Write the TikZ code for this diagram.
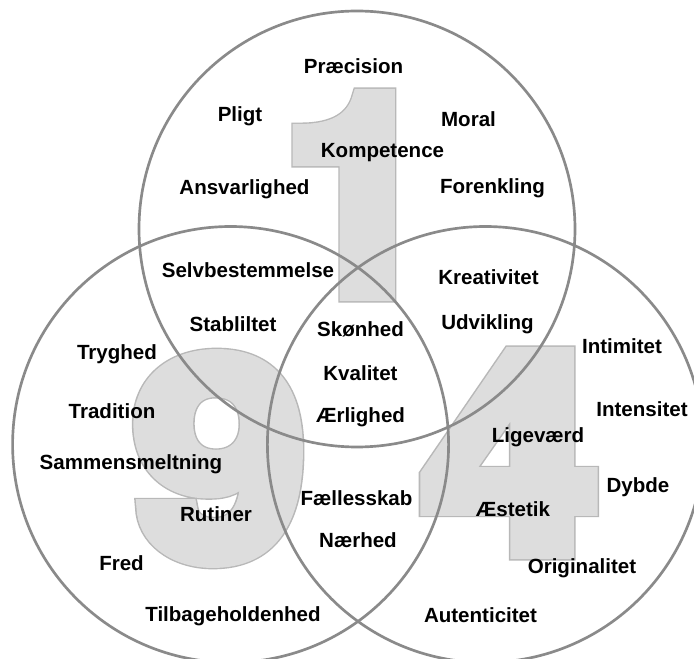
\documentclass[tikz,border=0pt]{standalone}
\usepackage{fontspec}
\setmainfont{Liberation Sans}
\newfontfamily\digitfill{texgyreheros-bold.otf}[FakeBold=6]
\newfontfamily\digitedge{texgyreheros-bold.otf}[FakeBold=7]
\definecolor{digitgrey}{HTML}{DDDDDD}
\definecolor{edgegrey}{HTML}{B8B8B8}
\definecolor{ringgrey}{HTML}{8A8A8A}
\tikzset{
  ring/.style={draw=ringgrey, line width=2pt, circle, minimum size=327pt, inner sep=0pt},
  lbl/.style={font=\bfseries\fontsize{15.4}{17}\selectfont, anchor=base, inner sep=0pt, text=black},
  bigedge/.style={font=\digitedge\fontsize{207}{207}\selectfont, text=edgegrey, inner sep=0pt},
  bigfill/.style={font=\digitfill\fontsize{207}{207}\selectfont, text=digitgrey, inner sep=0pt},
  wide/.style={transform shape, xscale=#1}
}
\begin{document}
\begin{tikzpicture}[x=0.75pt,y=-0.75pt]
\useasboundingbox (0,0) rectangle (694,659);
\fill[white] (0,0) rectangle (694,659);
% big digits
\node[bigedge] (oneE) at (359,195) {1};
\node[bigfill] (one) at (359,195) {1};
\node[bigedge, wide=1.12] (nineE) at (220,458.5) {9};
\node[bigfill, wide=1.12] (nine) at (220,458.5) {9};
\node[bigedge, wide=1.15] (fourE) at (510.5,453) {4};
\node[bigfill, wide=1.15] (four) at (510.5,453) {4};
% circles
\node[ring] (top) at (357,229) {};
\node[ring] (left) at (230.6,444.5) {};
\node[ring] (right) at (485.4,444.5) {};
% labels
\node[lbl] (praecision) at (353.5,74) {Præcision};
\node[lbl] (pligt) at (240,122) {Pligt};
\node[lbl] (moral) at (468.5,127) {Moral};
\node[lbl] (kompetence) at (382.5,158) {Kompetence};
\node[lbl] (ansvar) at (244.5,195) {Ansvarlighed};
\node[lbl] (forenkling) at (492.5,194) {Forenkling};
\node[lbl] (selvbest) at (248,278) {Selvbestemmelse};
\node[lbl] (kreativitet) at (488.5,285) {Kreativitet};
\node[lbl] (stabliltet) at (233,332) {Stabliltet};
\node[lbl] (skoenhed) at (360.5,337) {Skønhed};
\node[lbl] (udvikling) at (487.5,330) {Udvikling};
\node[lbl] (kvalitet) at (360.5,381) {Kvalitet};
\node[lbl] (aerlighed) at (360.5,423) {Ærlighed};
\node[lbl] (intimitet) at (622,354) {Intimitet};
\node[lbl] (intensitet) at (642,417) {Intensitet};
\node[lbl] (ligevaerd) at (538,443) {Ligeværd};
\node[lbl] (dybde) at (638,493) {Dybde};
\node[lbl] (aestetik) at (513,517) {Æstetik};
\node[lbl] (faellesskab) at (356.5,506) {Fællesskab};
\node[lbl] (naerhed) at (358,548) {Nærhed};
\node[lbl] (originalitet) at (582,574) {Originalitet};
\node[lbl] (autenticitet) at (480.5,623) {Autenticitet};
\node[lbl] (tryghed) at (117,360) {Tryghed};
\node[lbl] (tradition) at (112,419) {Tradition};
\node[lbl] (sammens) at (131,470) {Sammensmeltning};
\node[lbl] (rutiner) at (216,522) {Rutiner};
\node[lbl] (fred) at (121.5,571) {Fred};
\node[lbl] (tilbage) at (233,622) {Tilbageholdenhed};
\end{tikzpicture}
\end{document}
